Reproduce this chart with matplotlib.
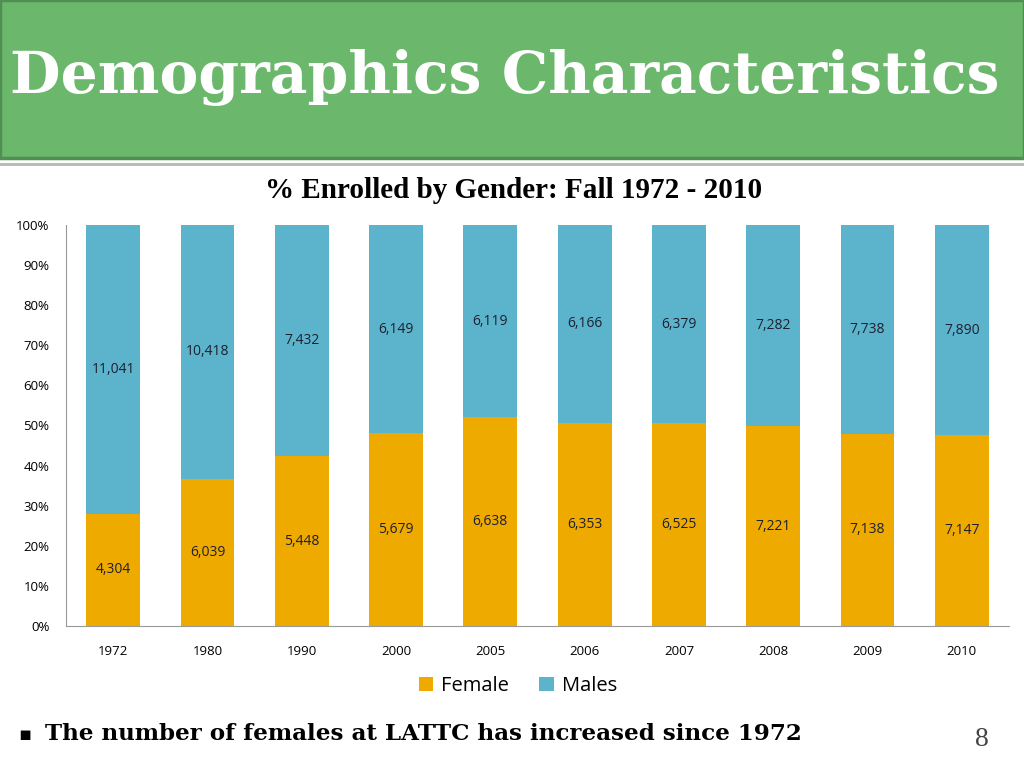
import numpy as np
import matplotlib.pyplot as plt
from matplotlib.patches import Rectangle

years = ['1972', '1980', '1990', '2000', '2005', '2006', '2007', '2008', '2009', '2010']
female = [4304, 6039, 5448, 5679, 6638, 6353, 6525, 7221, 7138, 7147]
males = [11041, 10418, 7432, 6149, 6119, 6166, 6379, 7282, 7738, 7890]

female = np.array(female)
males = np.array(males)
total = female + males
f_pct = female / total * 100
m_pct = males / total * 100

c_female = '#EFAA00'
c_males = '#5CB4CC'
sans = ['Open Sans', 'DejaVu Sans']

fig = plt.figure(figsize=(10.24, 7.68), dpi=100)

# header band
fig.patches.append(Rectangle((0, 1 - 158 / 768), 1, 158 / 768, transform=fig.transFigure,
                             facecolor='#6BB86D', edgecolor='#4F8F52', linewidth=2.5, zorder=0))
fig.patches.append(Rectangle((0, 1 - 166 / 768), 1, 3 / 768, transform=fig.transFigure,
                             facecolor='#BBBBBB', edgecolor='none', zorder=0))
fig.text(505 / 1024, 1 - 78 / 768, 'Demographics Characteristics', color='white', fontsize=42,
         fontweight='bold', family='DejaVu Serif', ha='center', va='center')

ax = fig.add_axes([66 / 1024, 1 - 626 / 768, 943 / 1024, 401 / 768])
x = np.arange(len(years))
ax.bar(x, f_pct, width=0.57, color=c_female, label='Female')
ax.bar(x, m_pct, width=0.57, bottom=f_pct, color=c_males, label='Males')

for i in range(len(years)):
    ax.text(x[i], f_pct[i] / 2, f'{female[i]:,}', ha='center', va='center',
            fontsize=10, family=sans, color='#1E2030')
    ax.text(x[i], f_pct[i] + m_pct[i] / 2, f'{males[i]:,}', ha='center', va='center',
            fontsize=10, family=sans, color='#1E2030')

ax.set_xlim(-0.5, len(years) - 0.5)
ax.set_ylim(0, 100)
ax.set_yticks(np.arange(0, 101, 10))
ax.set_yticklabels([f'{v}%' for v in range(0, 101, 10)], family=sans, fontsize=9.5)
ax.set_xticks(x)
ax.set_xticklabels(years, family=sans, fontsize=9.5)
ax.tick_params(length=0)
ax.tick_params(axis='x', pad=14)
ax.tick_params(axis='y', pad=12)
for s in ['top', 'right']:
    ax.spines[s].set_visible(False)
for s in ['left', 'bottom']:
    ax.spines[s].set_color('#999999')

fig.text(514 / 1024, 1 - 191 / 768, '% Enrolled by Gender: Fall 1972 - 2010', fontsize=21,
         fontweight='bold', family='Liberation Serif', ha='center', va='center')

fig.legend(loc='center', bbox_to_anchor=(518 / 1024, 1 - 686 / 768), ncol=2, frameon=False,
           prop={'family': sans, 'size': 14.5}, handlelength=0.7, handleheight=0.7,
           handletextpad=0.4, columnspacing=1.5)

fig.text(18 / 1024, 1 - 734 / 768, '\u25aa', fontsize=14, family='DejaVu Sans', va='center')
fig.text(45 / 1024, 1 - 734 / 768, 'The number of females at LATTC has increased since 1972',
         fontsize=16.6, fontweight='bold', family='DejaVu Serif', va='center')
fig.text(982 / 1024, 1 - 740 / 768, '8', fontsize=20, family='Liberation Serif',
         color='#444444', ha='center', va='center')

fig.savefig('out.png', dpi=100)
